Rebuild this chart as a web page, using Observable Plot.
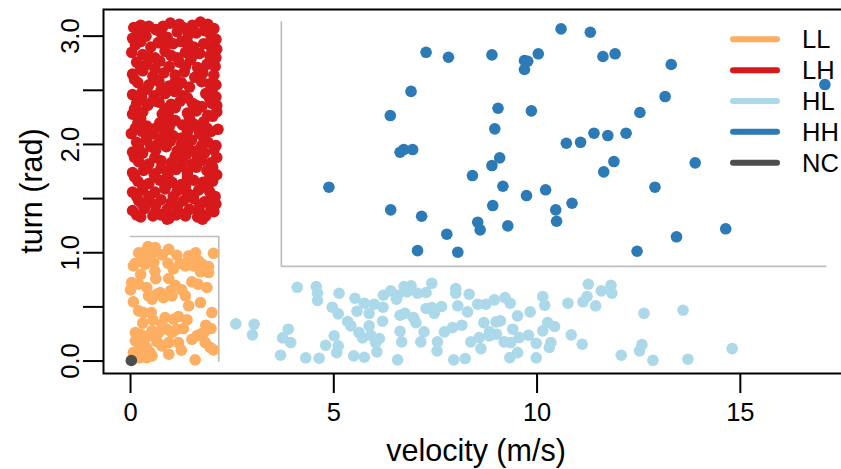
<!DOCTYPE html>
<html><head><meta charset="utf-8">
<script src="https://cdn.jsdelivr.net/npm/d3@7"></script>
<script src="https://cdn.jsdelivr.net/npm/@observablehq/plot@0.6"></script>
<style>
html,body{margin:0;padding:0;background:#fff;overflow:hidden}
#wrap{position:relative;width:841px;height:469px;overflow:hidden;font-family:"Liberation Sans",Arial,sans-serif}
#over{position:absolute;left:0;top:0}
#chart{position:absolute;left:0;top:0;width:850px}
#chart svg{max-width:none !important}
</style></head><body>
<div id="wrap"><svg id="over" width="841" height="469"></svg><div id="chart"></div></div>
<script>
const groups = ["LL","LH","HL","HH","NC"];
const groupColors = ["#FDAE61","#D7191C","#ABD9E9","#2C7BB6","#4D4D4D"];
const xTicks = [0,5,10,15];
const yTicks = [0,0.5,1,1.5,2,2.5,3];
const yLabels = [0,1,2,3];
const xTitle = "velocity (m/s)";
const yTitle = "turn (rad)";
const llBoxV = [0,2.17,2.17], llBoxT = [1.15,1.15,0];
const hhBoxV = [3.71,3.71,17.1], hhBoxT = [3.13,0.875,0.875];

const llPoints = [[0.43,1.057],[0.61,1.048],[0.32,1.002],[0.53,0.995],[0.44,0.946],[0.28,0.940],[0.12,0.903],[0.07,0.879],[0.36,0.894],[0.57,0.909],[0.94,1.032],[1.14,0.977],[0.92,0.903],[1.22,0.903],[1.43,0.971],[1.55,0.879],[1.67,0.925],[1.76,0.894],[1.92,0.873],[2.04,0.995],[1.92,0.817],[1.72,0.824],[1.35,0.879],[1.51,0.731],[1.66,0.709],[1.88,0.679],[0.94,0.762],[0.03,0.725],[0.0,0.657],[0.20,0.709],[0.40,0.679],[0.44,0.602],[0.53,0.571],[0.65,0.617],[0.73,0.632],[0.81,0.586],[0.98,0.648],[1.02,0.602],[1.26,0.657],[1.35,0.602],[1.43,0.510],[1.72,0.540],[2.00,0.448],[0.20,0.463],[0.32,0.448],[0.51,0.448],[0.85,0.402],[1.06,0.386],[1.18,0.411],[1.39,0.380],[0.77,0.340],[0.89,0.294],[0.69,0.263],[0.53,0.279],[0.44,0.233],[0.12,0.263],[0.24,0.248],[0.36,0.208],[0.12,0.187],[0.28,0.155],[0.40,0.125],[0.48,0.078],[0.20,0.103],[0.07,0.078],[0.77,0.140],[0.94,0.171],[1.18,0.171],[1.02,0.263],[1.14,0.294],[1.51,0.201],[1.63,0.233],[1.72,0.248],[1.85,0.331],[1.80,0.263],[1.84,0.171],[1.96,0.125],[2.04,0.103],[0.94,0.063],[1.59,0.011],[0.53,0.048],[0.40,0.032],[0.07,0.547],[0.62,0.760],
[0.20,1.00],[0.78,0.98],[1.05,0.85],[1.60,1.00],[0.60,0.83],[0.25,0.80],[1.10,0.70],[0.30,0.35],[0.55,0.38],[1.30,0.30],[0.65,0.18],[1.25,0.10],[0.22,0.03],[1.98,0.30]];

const lhPoints = [[0.08,3.08],[0.25,3.10],[0.45,3.09],[0.62,3.06],[0.98,3.12],[1.30,3.08],[1.52,3.10],[1.72,3.13],[1.90,3.11],[2.05,3.07],
[0.05,2.98],[0.20,3.02],[0.38,3.00],[0.75,3.03],[0.90,2.99],[1.15,3.04],[1.42,3.01],[1.62,3.03],[1.98,3.00],[2.10,2.97],
[0.12,2.92],[0.50,2.90],[0.68,2.94],[1.05,2.93],[1.25,2.95],[1.55,2.90],[1.80,2.93],[2.12,2.88],
[0.03,2.85],[0.30,2.83],[0.60,2.80],[0.85,2.86],[1.00,2.82],[1.35,2.85],[1.70,2.84],[1.95,2.82],
[0.15,2.76],[0.40,2.74],[0.72,2.77],[0.95,2.72],[1.20,2.76],[1.48,2.78],[1.88,2.74],[2.08,2.72],
[0.05,2.65],[0.30,2.68],[0.55,2.63],[0.82,2.66],[1.10,2.64],[1.32,2.67],[1.58,2.62],[1.78,2.66],[2.05,2.64],
[0.18,2.57],[0.45,2.55],[0.70,2.58],[0.95,2.54],[1.25,2.57],[1.45,2.53],[1.95,2.56],
[0.05,2.46],[0.28,2.48],[0.58,2.45],[0.85,2.47],[1.08,2.49],[1.30,2.45],[1.85,2.47],[2.10,2.44],
[0.15,2.38],[0.42,2.36],[0.70,2.39],[1.00,2.37],[1.22,2.40],[1.52,2.38],[1.75,2.35],[2.00,2.38],
[0.05,2.28],[0.30,2.30],[0.78,2.28],[0.95,2.31],[1.40,2.29],[1.62,2.31],[1.90,2.27],[2.12,2.30],
[0.18,2.20],[0.40,2.17],[0.72,2.20],[1.10,2.22],[1.28,2.18],[1.55,2.19],[1.80,2.21],[2.15,2.14],
[0.02,2.10],[0.28,2.12],[0.55,2.10],[0.85,2.11],[1.05,2.08],[1.40,2.12],[1.70,2.10],[1.98,2.12],
[0.15,2.02],[0.40,2.04],[0.68,2.01],[0.98,2.03],[1.25,2.00],[1.50,2.04],[1.90,2.02],[2.10,1.99],
[0.05,1.93],[0.30,1.92],[0.62,1.95],[1.15,1.94],[1.38,1.91],[1.60,1.94],[1.82,1.92],[2.05,1.95],
[0.20,1.84],[0.45,1.82],[0.75,1.85],[1.00,1.83],[1.28,1.86],[1.52,1.82],[1.75,1.85],[1.98,1.83],
[0.05,1.74],[0.32,1.76],[0.58,1.73],[0.90,1.75],[1.12,1.77],[1.40,1.74],[1.88,1.76],[2.12,1.72],
[0.18,1.66],[0.45,1.64],[0.72,1.67],[1.02,1.65],[1.25,1.63],[1.55,1.67],[1.78,1.65],[2.02,1.66],
[0.05,1.56],[0.30,1.58],[0.60,1.56],[0.85,1.59],[1.15,1.57],[1.40,1.55],[1.68,1.58],[1.95,1.56],
[0.20,1.48],[0.48,1.47],[0.75,1.49],[1.00,1.46],[1.30,1.48],[1.55,1.50],[1.82,1.47],[2.10,1.45],
[0.05,1.39],[0.35,1.41],[0.62,1.38],[0.90,1.40],[1.20,1.37],[1.45,1.40],[1.70,1.38],[1.98,1.41],
[0.25,1.33],[0.55,1.34],[0.95,1.32],[1.12,1.35],[1.65,1.33],[1.85,1.34],[0.90,1.31],[1.77,1.31],
[0.35,3.05],[0.80,3.09],[1.20,3.11],[1.82,3.05],
[0.25,2.95],[0.85,2.90],[1.40,2.94],[1.98,2.90],
[0.45,2.81],[1.15,2.80],[1.55,2.83],[2.10,2.80],
[0.25,2.71],[0.60,2.70],[1.35,2.72],[1.65,2.71],
[0.10,2.60],[0.60,2.60],[1.10,2.58],[1.75,2.58],[2.10,2.55],
[0.40,2.51],[0.75,2.50],[1.15,2.53],[2.00,2.50],
[0.28,2.42],[0.55,2.40],[1.40,2.43],[1.95,2.42],
[0.10,2.33],[0.85,2.33],[1.10,2.34],[1.62,2.36],[2.12,2.36],
[0.25,2.24],[0.95,2.24],[1.45,2.24],[2.02,2.26],
[0.12,2.15],[0.62,2.15],[0.95,2.16],[1.65,2.15],[1.88,2.15],
[0.40,2.07],[0.78,2.06],[1.25,2.06],[1.80,2.06],
[0.20,1.97],[0.50,1.98],[0.88,1.98],[1.40,1.98],[1.75,1.99],
[0.10,1.88],[0.60,1.88],[1.10,1.89],[1.65,1.88],[2.12,1.88],
[0.40,1.79],[0.75,1.78],[1.25,1.80],[1.62,1.79],[2.02,1.79],
[0.10,1.70],[0.60,1.70],[0.92,1.71],[1.40,1.70],[1.95,1.70],
[0.30,1.62],[0.85,1.61],[1.35,1.61],[1.90,1.61],
[0.15,1.52],[0.45,1.52],[1.05,1.52],[1.55,1.53],[2.08,1.52],
[0.30,1.44],[0.62,1.44],[1.15,1.43],[1.70,1.44],[1.95,1.48],
[0.15,1.35],[0.75,1.35],[1.35,1.34],[2.05,1.38]];

const hlPoints = [[2.59,0.343],[3.04,0.340],[3.00,0.242],[3.69,0.054],[3.74,0.214],[3.88,0.294],[3.94,0.171],[4.10,0.681],[4.31,0.030],[4.57,0.688],[4.60,0.626],[4.60,0.559],[4.64,0.026],[4.80,0.146],[4.96,0.497],[5.01,0.233],[5.07,0.078],[5.11,0.436],[5.11,0.140],[5.13,0.626],[5.34,0.365],[5.42,0.325],[5.49,0.048],[5.52,0.580],[5.57,0.460],[5.62,0.263],[5.71,0.214],[5.75,0.534],[5.75,0.035],[5.87,0.441],[5.87,0.325],[5.91,0.238],[5.99,0.525],[6.03,0.171],[6.06,0.085],[6.12,0.208],[6.20,0.368],[6.21,0.497],[6.22,0.608],[6.40,0.648],[6.54,0.571],[6.57,0.608],[6.57,0.011],[6.63,0.423],[6.63,0.275],[6.67,0.177],[6.73,0.688],[6.75,0.441],[6.80,0.639],[6.90,0.694],[6.96,0.402],[7.02,0.355],
[7.06,0.626],[7.27,0.633],[7.41,0.718],[8.00,0.669],[8.00,0.626],[8.33,0.617],[8.54,0.525],[8.74,0.525],[8.95,0.565],[9.21,0.586],[9.34,0.534],[8.05,0.510],[8.29,0.454],[7.27,0.485],[7.41,0.494],[7.47,0.441],[7.65,0.503],[7.22,0.270],[7.14,0.177],[7.55,0.177],[7.54,0.094],[7.72,0.270],[7.92,0.309],[8.15,0.331],[8.37,0.177],[8.58,0.217],[8.62,0.115],[8.69,0.355],[8.83,0.270],[8.83,0.233],[8.99,0.362],[9.10,0.371],[9.00,0.248],[9.19,0.177],[9.35,0.171],[9.40,0.294],[9.52,0.417],[9.56,0.217],[9.79,0.238],[9.83,0.454],[9.98,0.164],[10.14,0.596],[10.19,0.515],[10.26,0.355],[10.43,0.319],[10.14,0.279],[10.34,0.171],[10.30,0.125],[10.76,0.534],[10.84,0.242],[7.95,0.011],[8.23,0.023],[9.33,0.032],[9.52,0.078],[9.98,0.030],
[11.26,0.709],[11.58,0.648],[11.82,0.700],[11.84,0.626],[11.23,0.596],[11.13,0.547],[11.44,0.510],[12.63,0.441],[13.59,0.469],[11.11,0.155],[12.07,0.054],[12.58,0.152],[12.52,0.094],[12.85,0.007],[13.71,0.017],[14.80,0.115]];

const hhPoints = [[10.59,3.067],[7.27,2.851],[7.82,2.805],[8.89,2.827],[9.69,2.775],[9.77,2.768],[9.69,2.692],[10.03,2.837],[6.90,2.490],[6.39,2.267],[9.04,2.334],[9.86,2.310],[8.96,2.144],[6.63,1.928],[6.72,1.953],[6.94,1.953],[9.08,1.876],[8.89,1.805],[8.41,1.713],[4.88,1.605],[9.16,1.614],[9.74,1.528],[10.21,1.581],[6.40,1.396],[7.16,1.337],[8.91,1.436],[10.46,1.396],[10.48,1.291],[8.54,1.282],[8.60,1.211],[9.28,1.248],[7.78,1.171],[7.06,1.020],[8.05,1.005],
[11.31,3.036],[11.62,2.812],[11.92,2.837],[13.30,2.738],[17.08,2.553],[13.15,2.442],[12.53,2.295],[10.72,2.011],[11.07,2.020],[11.40,2.104],[11.74,2.082],[12.19,2.104],[11.89,1.842],[11.64,1.747],[13.89,1.830],[12.90,1.605],[10.86,1.457],[14.64,1.221],[13.43,1.147],[12.46,1.014]];

const ncPoints = [[0.02,0.005]];

const rows = [];
[llPoints, lhPoints, hlPoints, hhPoints, ncPoints].forEach((pts, i) =>
  pts.forEach(([v, t]) => rows.push({v, t, g: groups[i]})));
const llBox = llBoxV.map((v, i) => ({v, t: llBoxT[i]}));
const hhBox = hhBoxV.map((v, i) => ({v, t: hhBoxT[i]}));

const plot = Plot.plot({
  width: 850, height: 469,
  marginLeft: 103, marginRight: 0, marginTop: 9, marginBottom: 96,
  style: {background: "transparent", fontFamily: "'Liberation Sans', Arial, sans-serif", color: "black", maxWidth: "none"},
  x: {domain: [-0.665, 17.71]},
  y: {domain: [-0.115, 3.246]},
  color: {domain: groups, range: groupColors},
  marks: [
    Plot.line(llBox, {x: "v", y: "t", stroke: "#BEBEBE", strokeWidth: 1.7}),
    Plot.line(hhBox, {x: "v", y: "t", stroke: "#BEBEBE", strokeWidth: 1.7}),
    Plot.dot(rows, {x: "v", y: "t", fill: "g", r: 5.8, stroke: null}),
    Plot.frame({stroke: "black", strokeWidth: 2}),
    Plot.axisX({ticks: xTicks, tickSize: 20, tickFormat: () => "", label: null, strokeWidth: 2}),
    Plot.axisY({ticks: yTicks, tickSize: 20, tickFormat: () => "", label: null, strokeWidth: 2}),
    Plot.text(xTicks, {x: d => d, text: d => String(d), frameAnchor: "bottom", dy: 39, lineAnchor: "middle", fontSize: 25.5, fill: "black"}),
    Plot.text(yLabels, {y: d => d, text: d => d.toFixed(1), frameAnchor: "left", dx: -33, rotate: -90, textAnchor: "middle", lineAnchor: "middle", fontSize: 25.5, fill: "black"})
  ]
});
document.getElementById("chart").appendChild(plot);

// legend and axis titles
const over = d3.select("#over");
groups.forEach((g, i) => {
  const y = 39.3 + i * 30.85;
  over.append("line").attr("x1", 733).attr("x2", 777).attr("y1", y).attr("y2", y)
    .attr("stroke", groupColors[i]).attr("stroke-width", 6).attr("stroke-linecap", "round");
  over.append("text").attr("x", 802).attr("y", y).attr("dominant-baseline", "central")
    .attr("font-size", 25.5).attr("fill", "black").text(g);
});
over.append("text").attr("x", 476).attr("y", 461).attr("text-anchor", "middle")
  .attr("font-size", 30.5).attr("fill", "black").text(xTitle);
over.append("text").attr("transform", "translate(42,191) rotate(-90)").attr("text-anchor", "middle")
  .attr("font-size", 30.5).attr("fill", "black").text(yTitle);
</script>
</body></html>
